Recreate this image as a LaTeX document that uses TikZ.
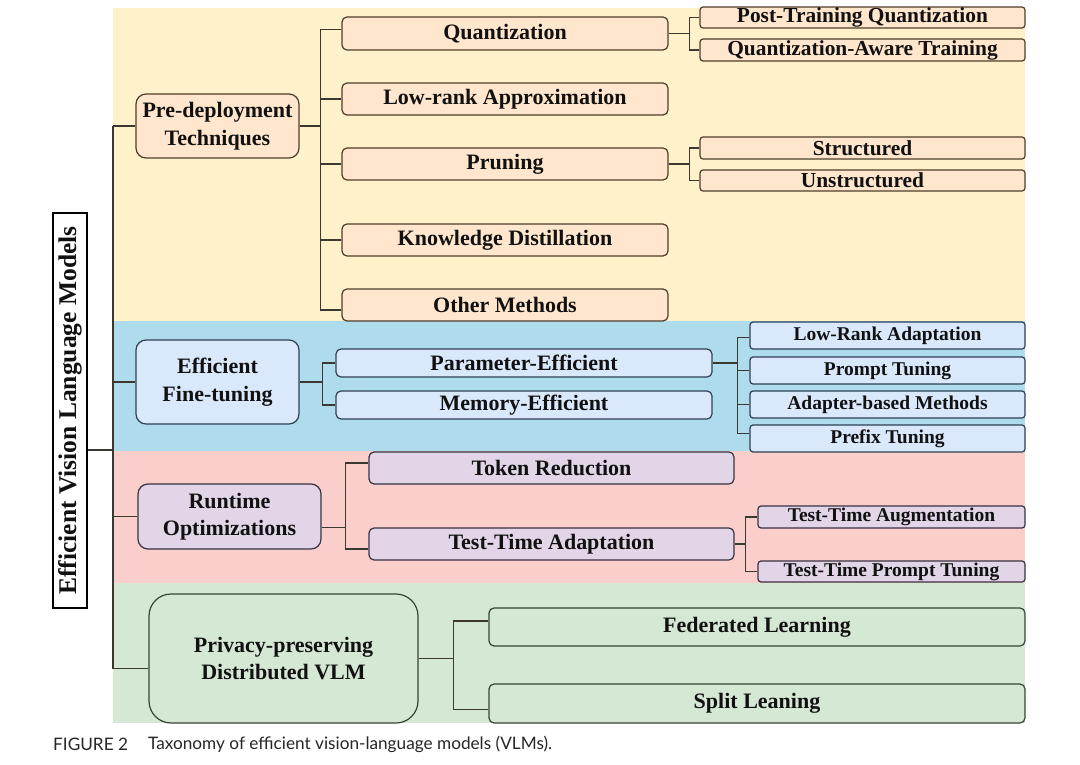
\documentclass[tikz,border=0pt]{standalone}
\usepackage{fontspec}
\setmainfont{Liberation Serif}
\newfontfamily\capfont{Lato}
\usetikzlibrary{calc}
\definecolor{bandY}{HTML}{FFF1CA}
\definecolor{bandB}{HTML}{AFDCEC}
\definecolor{bandR}{HTML}{FACFCB}
\definecolor{bandG}{HTML}{D5E8D4}
\definecolor{fillY}{HTML}{FFE6CC}
\definecolor{fillB}{HTML}{DAE8FC}
\definecolor{fillR}{HTML}{E1D5E7}
\definecolor{fillG}{HTML}{D5E8D4}
\definecolor{edgeY}{HTML}{4F3E2A}
\definecolor{edgeB}{HTML}{2E4054}
\definecolor{edgeR}{HTML}{383242}
\definecolor{edgeG}{HTML}{344634}
\definecolor{wirec}{HTML}{3A3830}
\definecolor{ink}{HTML}{111111}
\tikzset{
  box/.style={draw, line width=1.2pt, inner sep=0pt, align=center, text=ink,
    font=\bfseries\fontsize{22}{27.5}\selectfont, rounded corners=5pt},
  sz/.style 2 args={minimum width=#1pt, minimum height=#2pt},
  yb/.style={box, fill=fillY, draw=edgeY},
  bb/.style={box, fill=fillB, draw=edgeB},
  rb/.style={box, fill=fillR, draw=edgeR},
  gb/.style={box, fill=fillG, draw=edgeG},
  lone/.style={rounded corners=10pt},
  lthree/.style={rounded corners=3pt, font=\bfseries\fontsize{19.5}{22}\selectfont},
  lthreey/.style={rounded corners=3pt, font=\bfseries\fontsize{21.4}{22}\selectfont},
  wire/.style={draw=wirec, line width=1.2pt},
}
\begin{document}
\begin{tikzpicture}[x=1pt,y=-1pt]
\useasboundingbox (0,0) rectangle (1080,765);
\fill[white] (0,0) rectangle (1080,765);
% bands
\fill[bandY] (113,8) rectangle (1025,321);
\fill[bandB] (113,321) rectangle (1025,451);
\fill[bandR] (113,451) rectangle (1025,583);
\fill[bandG] (113,583) rectangle (1025,723);

% root
\node[draw=black, line width=1.3pt, fill=white, rotate=90, minimum width=395pt,
  minimum height=34pt, inner sep=0pt, text=ink,
  font=\bfseries\fontsize{25.5}{28}\selectfont] (root) at (70,410.5)
  {Efficient Vision Language Models};

% level 1
\node[yb, lone, sz={163}{64}] (pre) at (217.5,126) {Pre-deployment\\Techniques};
\node[bb, lone, sz={163}{84}] (ft) at (217.5,382) {Efficient\\Fine-tuning};
\node[rb, lone, sz={183}{65}] (rt) at (229.5,516.5) {Runtime\\Optimizations};
\node[gb, lone, rounded corners=22pt, sz={269}{129}] (pv) at (283.5,658.5) {Privacy-preserving\\Distributed VLM};

% level 2 (pre-deployment)
\node[yb, sz={326}{33}] (quant) at (505,33.5) {Quantization};
\node[yb, sz={326}{32}] (lra) at (505,99) {Low-rank Approximation};
\node[yb, sz={326}{32}] (prun) at (505,164) {Pruning};
\node[yb, sz={326}{32}] (kd) at (505,240) {Knowledge Distillation};
\node[yb, sz={326}{32}] (oth) at (505,305) {Other Methods};

% level 3 (pre-deployment)
\node[yb, lthreey, sz={325}{21}] (ptq) at (862.5,17.5) {Post-Training Quantization};
\node[yb, lthreey, sz={325}{22}] (qat) at (862.5,50) {Quantization-Aware Training};
\node[yb, lthreey, sz={325}{22}] (str) at (862.5,148) {Structured};
\node[yb, lthreey, sz={325}{21}] (unstr) at (862.5,180.5) {Unstructured};

% fine-tuning
\node[bb, sz={376}{28}] (pe) at (524,363) {Parameter-Efficient};
\node[bb, sz={376}{28}] (me) at (524,405) {Memory-Efficient};
\node[bb, lthree, sz={275}{27}] (lora) at (887.5,335.5) {Low-Rank Adaptation};
\node[bb, lthree, sz={275}{27}] (pt) at (887.5,370.5) {Prompt Tuning};
\node[bb, lthree, sz={275}{27}] (abm) at (887.5,404.5) {Adapter-based Methods};
\node[bb, lthree, sz={275}{27}] (pft) at (887.5,438.5) {Prefix Tuning};

% runtime
\node[rb, sz={365}{32}] (tr) at (551.5,468) {Token Reduction};
\node[rb, sz={365}{32}] (tta) at (551.5,544) {Test-Time Adaptation};
\node[rb, lthree, sz={267}{22}] (taug) at (891.5,517) {Test-Time Augmentation};
\node[rb, lthree, sz={267}{21}] (tpt) at (891.5,571.5) {Test-Time Prompt Tuning};

% privacy
\node[gb, sz={536}{38}] (fl) at (757,627) {Federated Learning};
\node[gb, sz={536}{39}] (sl) at (757,703.5) {Split Leaning};

% connectors: trunk
\coordinate (t) at (113,450);
\draw[wire] (root.south |- t) -- (t);
\draw[wire] (pre.west -| t) -- ([yshift=-10pt]pv.west -| t);
\foreach \p in {pre,ft,rt} \draw[wire] (\p.west) -- (\p.west -| t);
\draw[wire] ([yshift=-10pt]pv.west) -- ([yshift=-10pt]pv.west -| t);
% pre-deployment
\draw[wire] (pre.east) -- ++(21,0) |- ([yshift=4pt]quant.west);
\draw[wire] (pre.east) -- ++(21,0) |- (lra.west);
\draw[wire] (pre.east) -- ++(21,0) |- (prun.west);
\draw[wire] (pre.east) -- ++(21,0) |- (kd.west);
\draw[wire] (pre.east) -- ++(21,0) |- ([yshift=-5pt]oth.west);
\foreach \c in {ptq,qat} \draw[wire] (quant.east) -- ++(21,0) |- (\c.west);
\foreach \c in {str,unstr} \draw[wire] (prun.east) -- ++(21,0) |- (\c.west);
% fine-tuning
\foreach \c in {pe,me} \draw[wire] (ft.east) -- ++(23,0) |- (\c.west);
\draw[wire] (pe.east) -- ++(25,0) |- ([yshift=-2pt]lora.west);
\draw[wire] (pe.east) -- ++(25,0) |- (pt.west);
\draw[wire] (pe.east) -- ++(25,0) |- (abm.west);
\draw[wire] (pe.east) -- ++(25,0) |- ([yshift=5pt]pft.west);
% runtime
\draw[wire] ([yshift=-11pt]rt.east) -- ++(24,0) |- ([yshift=5pt]tr.west);
\draw[wire] ([yshift=-11pt]rt.east) -- ++(24,0) |- ([yshift=-5pt]tta.west);
\foreach \c in {taug,tpt} \draw[wire] (tta.east) -- ++(11,0) |- (\c.west);
% privacy
\draw[wire] (pv.east) -- ++(35,0) |- ([yshift=6pt]fl.west);
\draw[wire] (pv.east) -- ++(35,0) |- ([yshift=-6pt]sl.west);

% caption
\node[anchor=west, inner sep=0pt, text=black!85, font=\capfont\fontsize{17.2}{20}\selectfont] (figlab) at (53,744) {FIGURE 2};
\node[anchor=west, inner sep=0pt, text=black!85, font=\capfont\fontsize{17.2}{20}\selectfont] (capt) at (148,744) {Taxonomy of efficient vision-language models (VLMs).};
\end{tikzpicture}
\end{document}
